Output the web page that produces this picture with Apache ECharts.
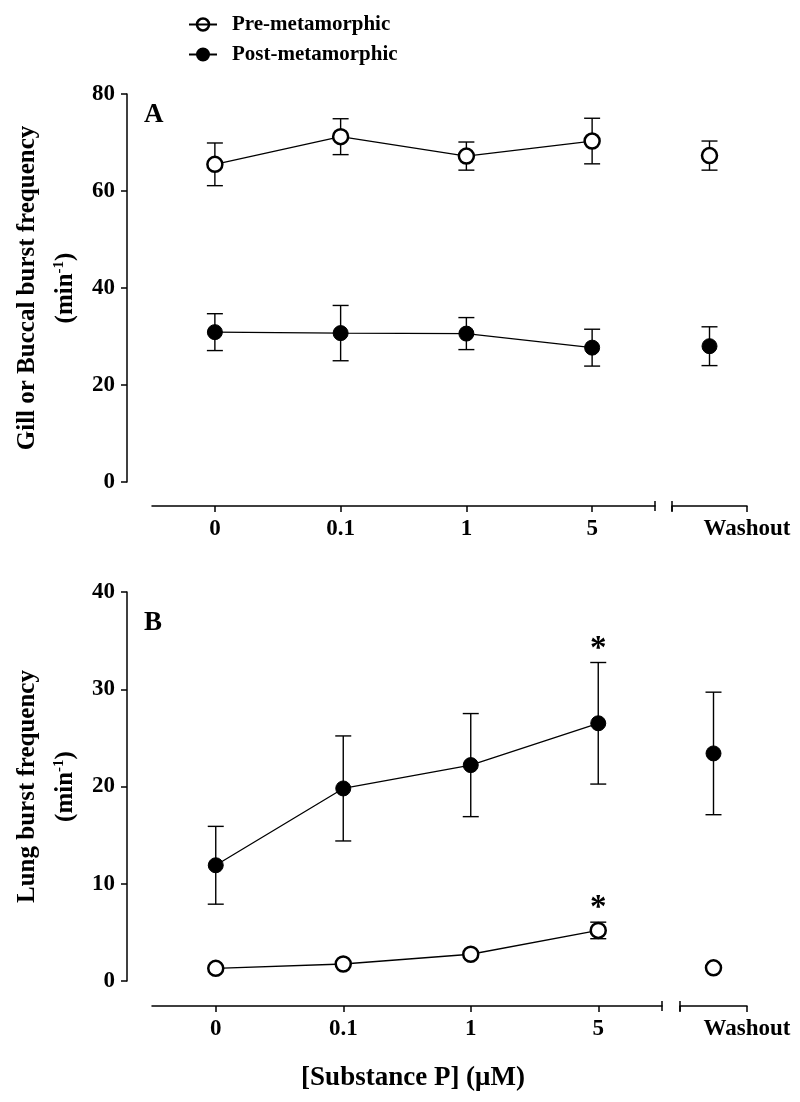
<!DOCTYPE html>
<html>
<head>
<meta charset="utf-8">
<script src="https://cdn.jsdelivr.net/npm/echarts@6/dist/echarts.min.js"></script>
<style>html,body{margin:0;padding:0;background:#fff}#chart{width:800px;height:1102px}</style>
</head>
<body>
<div id="chart"></div>
<script>
// ---------- data ----------
const categories = ['0', '0.1', '1', '5'];
const washoutLabel = 'Washout';
const seriesNames = ['Pre-metamorphic', 'Post-metamorphic'];
const xTitle = '[Substance P] (\u03BCM)';

// Panel A: gill or buccal burst frequency (min-1)
const gillPreMean = [65.5, 71.2, 67.2, 70.3];
const gillPreSem = [4.4, 3.7, 2.9, 4.7];
const gillPreWashMean = [67.3];
const gillPreWashSem = [3.0];
const gillPostMean = [30.9, 30.7, 30.6, 27.7];
const gillPostSem = [3.8, 5.7, 3.3, 3.8];
const gillPostWashMean = [28.0];
const gillPostWashSem = [4.0];

// Panel B: lung burst frequency (min-1)
const lungPreMean = [1.3, 1.75, 2.75, 5.2];
const lungPreSem = [0, 0, 0, 0.85];
const lungPreWashMean = [1.35];
const lungPreWashSem = [0];
const lungPostMean = [11.9, 19.8, 22.2, 26.5];
const lungPostSem = [4.0, 5.4, 5.3, 6.25];
const lungPostWashMean = [23.4];
const lungPostWashSem = [6.3];
const lungPreSig = [0, 0, 0, 1];
const lungPostSig = [0, 0, 0, 1];

// ---------- layout ----------
const FONT = '"Liberation Serif", "Times New Roman", serif';
const gA1 = {left: 152, top: 94, width: 503, height: 388};
const gA2 = {left: 672, top: 94, width: 75, height: 388};
const gB1 = {left: 152, top: 592, width: 510, height: 389};
const gB2 = {left: 680, top: 592, width: 67, height: 389};
const xOffA = 24, xOffB = 25;
const washPos = 0.5; // centre of the washout axis segment

function errData(means, sems, xs, sig) {
  return means.map((m, i) => [xs ? xs[i] : i, m - sems[i], m + sems[i], sig ? sig[i] : 0]);
}
function errRender(params, api) {
  const x = api.value(0), lo = api.value(1), hi = api.value(2), sig = api.value(3);
  const pLo = api.coord([x, lo]);
  const pHi = api.coord([x, hi]);
  const hw = 8;
  const st = {stroke: '#000', lineWidth: 1.4};
  const children = [];
  if (hi - lo > 0) {
    children.push({type: 'line', shape: {x1: pLo[0], y1: pLo[1], x2: pHi[0], y2: pHi[1]}, style: st});
    children.push({type: 'line', shape: {x1: pHi[0] - hw, y1: pHi[1], x2: pHi[0] + hw, y2: pHi[1]}, style: st});
    children.push({type: 'line', shape: {x1: pLo[0] - hw, y1: pLo[1], x2: pLo[0] + hw, y2: pLo[1]}, style: st});
  }
  if (sig) {
    children.push({type: 'text', style: {text: '*', x: pHi[0], y: pHi[1] + 3, align: 'center', verticalAlign: 'bottom',
      font: 'bold 33px ' + FONT, fill: '#000'}});
  }
  return {type: 'group', children: children};
}

const tickLabel = {fontFamily: FONT, fontWeight: 'bold', fontSize: 23, color: '#000'};
const axisLineStyle = {color: '#000', width: 1.5};

function yAxisMain(grid, max, interval, name) {
  return {
    gridIndex: grid, type: 'value', min: 0, max: max, interval: interval, offset: 25,
    axisLine: {show: true, onZero: false, lineStyle: axisLineStyle},
    axisTick: {show: true, length: 6, lineStyle: axisLineStyle},
    axisLabel: Object.assign({margin: 12}, tickLabel),
    splitLine: {show: false},
    name: '{t|' + name + '}\n{t|(min}{s|-1}{t|)}',
    nameLocation: 'middle', nameRotate: 90, nameGap: 42,
    nameTextStyle: {
      rich: {
        t: {fontFamily: FONT, fontWeight: 'bold', fontSize: 25, color: '#000', lineHeight: 38},
        s: {fontFamily: FONT, fontWeight: 'bold', fontSize: 15, color: '#000', lineHeight: 38, padding: [0, 0, 14, 0]}
      }
    }
  };
}
function yAxisHidden(grid, max, interval) {
  return {gridIndex: grid, type: 'value', min: 0, max: max, interval: interval, show: false};
}
function xAxisCat(grid, off) {
  return {
    gridIndex: grid, type: 'category', data: categories, boundaryGap: true, offset: off, position: 'bottom',
    axisLine: {show: true, onZero: false, lineStyle: axisLineStyle},
    axisTick: {show: true, alignWithLabel: true, length: 6, lineStyle: axisLineStyle},
    axisLabel: Object.assign({margin: 12, interval: 0}, tickLabel),
    splitLine: {show: false}
  };
}
function xAxisWash(grid, off) {
  return {
    gridIndex: grid, type: 'value', min: 0, max: 1, interval: 1, offset: off, position: 'bottom',
    axisLine: {show: true, onZero: false, lineStyle: axisLineStyle},
    axisTick: {show: true, length: 6, lineStyle: axisLineStyle},
    axisLabel: Object.assign({margin: 12, formatter: v => (v === 1 ? washoutLabel : '')}, tickLabel),
    splitLine: {show: false}
  };
}

function lineSeries(name, xi, yi, data, open) {
  return {
    name: name, type: 'line', xAxisIndex: xi, yAxisIndex: yi, data: data,
    symbol: 'circle', symbolSize: 15, z: 3,
    lineStyle: {color: '#000', width: 1.3},
    itemStyle: open ? {color: '#fff', borderColor: '#000', borderWidth: 2.5} : {color: '#000', borderColor: '#000', borderWidth: 1},
    emphasis: {disabled: true}, animation: false
  };
}
function washSeries(name, xi, yi, mean, open) {
  return lineSeries(name, xi, yi, mean.map(m => [washPos, m]), open);
}
function errSeries(xi, yi, data) {
  return {type: 'custom', xAxisIndex: xi, yAxisIndex: yi, data: data, renderItem: errRender, z: 2,
    encode: {x: 0, y: [1, 2]}, silent: true, animation: false};
}

function breakMarks(g1, g2, off) {
  const y = g1.top + g1.height + off;
  const xs = [g1.left + g1.width, g2.left];
  return xs.map(x => ({type: 'line', shape: {x1: x, y1: y - 5, x2: x, y2: y + 5},
    style: {stroke: '#000', lineWidth: 1.5}, silent: true}));
}

const chart = echarts.init(document.getElementById('chart'), null, {renderer: 'canvas'});
const option = {
  backgroundColor: '#fff',
  animation: false,
  legend: {
    orient: 'vertical', left: 183, top: 9, itemWidth: 28, itemHeight: 15, itemGap: 9,
    data: [
      {name: seriesNames[0], itemStyle: {color: 'rgba(255,255,255,0)', borderColor: '#000', borderWidth: 2.5}},
      {name: seriesNames[1]}
    ],
    textStyle: {fontFamily: FONT, fontWeight: 'bold', fontSize: 21, color: '#000', padding: [0, 0, 0, 10]},
    selectedMode: false
  },
  title: [
    {text: 'A', left: 144, top: 102, padding: 0, textStyle: {fontFamily: FONT, fontWeight: 'bold', fontSize: 27, color: '#000'}},
    {text: 'B', left: 144, top: 610, padding: 0, textStyle: {fontFamily: FONT, fontWeight: 'bold', fontSize: 27, color: '#000'}},
    {text: xTitle, left: 413, textAlign: 'center', top: 1065, padding: 0, textStyle: {fontFamily: FONT, fontWeight: 'bold', fontSize: 27, color: '#000'}}
  ],
  grid: [gA1, gA2, gB1, gB2].map(g => Object.assign({containLabel: false}, g)),
  xAxis: [xAxisCat(0, xOffA), xAxisWash(1, xOffA), xAxisCat(2, xOffB), xAxisWash(3, xOffB)],
  yAxis: [yAxisMain(0, 80, 20, 'Gill or Buccal burst frequency'), yAxisHidden(1, 80, 20),
          yAxisMain(2, 40, 10, 'Lung burst frequency'), yAxisHidden(3, 40, 10)],
  series: [
    lineSeries(seriesNames[0], 0, 0, gillPreMean, true),
    lineSeries(seriesNames[1], 0, 0, gillPostMean, false),
    errSeries(0, 0, errData(gillPreMean, gillPreSem)),
    errSeries(0, 0, errData(gillPostMean, gillPostSem)),
    washSeries(seriesNames[0], 1, 1, gillPreWashMean, true),
    washSeries(seriesNames[1], 1, 1, gillPostWashMean, false),
    errSeries(1, 1, errData(gillPreWashMean, gillPreWashSem, [washPos])),
    errSeries(1, 1, errData(gillPostWashMean, gillPostWashSem, [washPos])),

    lineSeries(seriesNames[0], 2, 2, lungPreMean, true),
    lineSeries(seriesNames[1], 2, 2, lungPostMean, false),
    errSeries(2, 2, errData(lungPreMean, lungPreSem, null, lungPreSig)),
    errSeries(2, 2, errData(lungPostMean, lungPostSem, null, lungPostSig)),
    washSeries(seriesNames[0], 3, 3, lungPreWashMean, true),
    washSeries(seriesNames[1], 3, 3, lungPostWashMean, false),
    errSeries(3, 3, errData(lungPreWashMean, lungPreWashSem, [washPos])),
    errSeries(3, 3, errData(lungPostWashMean, lungPostWashSem, [washPos]))
  ],
  graphic: breakMarks(gA1, gA2, xOffA).concat(breakMarks(gB1, gB2, xOffB))
};
chart.setOption(option);
</script>
</body>
</html>
